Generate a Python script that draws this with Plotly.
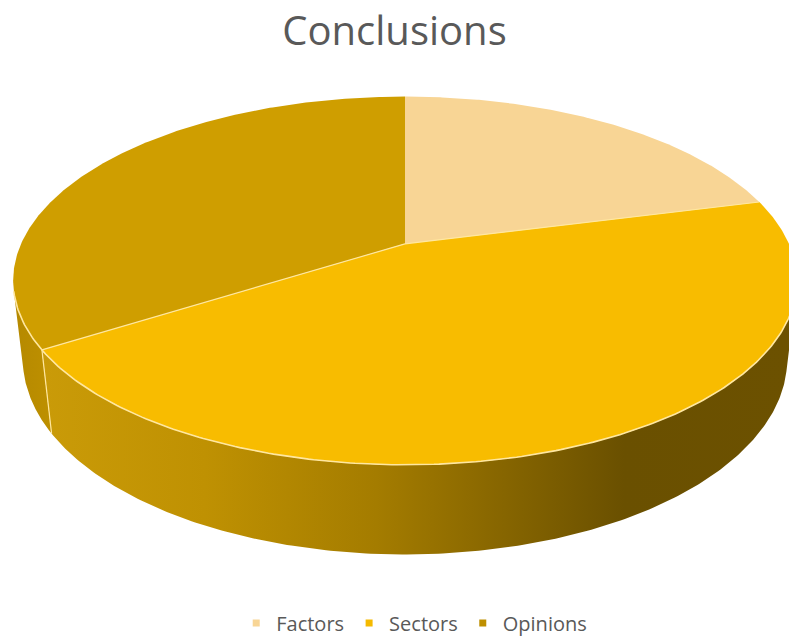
import numpy as np
import plotly.graph_objects as go

# ---- data ----
labels = ["Factors", "Sectors", "Opinions"]
values = [21, 45, 34]
top_colors = ["#F8D595", "#F8BC00", "#CF9E00"]
legend_colors = ["#F8D595", "#F5BA00", "#BE8F00"]
title_text = "Conclusions"

# ---- view / geometry settings ----
W, H = 789, 643
CX, CY = 405, 245          # projected pie centre (px)
F, D = 1702.0, 4.433       # perspective scale and camera distance
PHI = np.radians(27.55)    # camera elevation
THICK = 0.234              # pie thickness (unit radius = 1)
EDGE = "#FFE7A0"

cphi, sphi = np.cos(PHI), np.sin(PHI)


def project(theta_deg, z):
    t = np.radians(np.asarray(theta_deg, dtype=float))
    x, y = np.sin(t), np.cos(t)
    depth = D + y * cphi - z * sphi
    sx = F * x / depth
    sy = F * (y * sphi + z * cphi) / depth
    return CX + sx, CY - sy


def arc(a, b, z, n=240):
    th = np.linspace(a, b, n)
    return project(th, z)


total = float(sum(values))
bounds = np.concatenate([[0.0], np.cumsum(values) / total * 360.0])

theta_r = np.degrees(np.arccos(-1.0 / (D * cphi)))
theta_l = 360.0 - theta_r

fig = go.Figure()

# ---- side walls ----
wall_scales = {
    1: [[0.0, "#CA9B08"], [0.22, "#BF9102"], [0.45, "#A47C00"],
        [0.62, "#866500"], [0.78, "#6A5000"], [1.0, "#6C5100"]],
    2: [[0.0, "#B58900"], [1.0, "#BE9000"]],
}
for i in range(len(values)):
    a = max(bounds[i], theta_r)
    b = min(bounds[i + 1], theta_l)
    if b <= a:
        continue
    xt, yt = arc(a, b, 0.0)
    xb, yb = arc(b, a, -THICK)
    xs = np.concatenate([xt, xb, xt[:1]])
    ys = np.concatenate([yt, yb, yt[:1]])
    if i == 1:
        grad = dict(type="horizontal", colorscale=wall_scales[1], start=40, stop=789)
    else:
        grad = dict(type="horizontal", colorscale=wall_scales.get(i, wall_scales[2]))
    fig.add_trace(go.Scatter(x=xs, y=ys, mode="lines", fill="toself",
                             fillgradient=grad, line=dict(width=0),
                             showlegend=False, hoverinfo="skip"))

# vertical wall edges at visible slice boundaries
for bd in bounds[1:-1]:
    if theta_r < bd < theta_l:
        x0, y0 = project([bd, bd], np.array([0.0, -THICK]))
        fig.add_trace(go.Scatter(x=x0, y=y0, mode="lines",
                                 line=dict(color=EDGE, width=1.2),
                                 showlegend=False, hoverinfo="skip"))

# ---- top faces ----
for i in range(len(values)):
    xa, ya = arc(bounds[i], bounds[i + 1], 0.0)
    xs = np.concatenate([[CX], xa, [CX]])
    ys = np.concatenate([[CY], ya, [CY]])
    fig.add_trace(go.Scatter(x=xs, y=ys, mode="lines", fill="toself",
                             fillcolor=top_colors[i], line=dict(width=0),
                             showlegend=False, hoverinfo="skip"))

# slice boundary lines on top
for bd in bounds[1:-1]:
    px, py = project(bd, 0.0)
    fig.add_trace(go.Scatter(x=[CX, float(px)], y=[CY, float(py)], mode="lines",
                             line=dict(color=EDGE, width=1.2),
                             showlegend=False, hoverinfo="skip"))

# front rim highlight
xr, yr = arc(theta_r, theta_l, 0.0)
fig.add_trace(go.Scatter(x=xr, y=yr, mode="lines",
                         line=dict(color=EDGE, width=1.6),
                         showlegend=False, hoverinfo="skip"))

# ---- legend entries ----
for lab, col in zip(labels, legend_colors):
    fig.add_trace(go.Scatter(x=[None], y=[None], mode="markers", name=lab,
                             marker=dict(symbol="square", size=7, color=col)))

fig.update_layout(
    width=W, height=H,
    margin=dict(l=0, r=0, t=0, b=0),
    paper_bgcolor="white", plot_bgcolor="white",
    title=dict(text=title_text, x=0.5, xanchor="center",
               y=1 - 31 / H, yanchor="middle", yref="container",
               font=dict(family="Open Sans", size=40, color="#595959")),
    legend=dict(orientation="h", x=0.525, xanchor="center",
                y=1 - 626 / H, yanchor="middle",
                font=dict(family="Open Sans", size=20, color="#595959"),
                itemwidth=30),
    xaxis=dict(range=[0, W], visible=False, fixedrange=True),
    yaxis=dict(range=[H, 0], visible=False, fixedrange=True),
    showlegend=True,
)

fig.write_html("out.html")
